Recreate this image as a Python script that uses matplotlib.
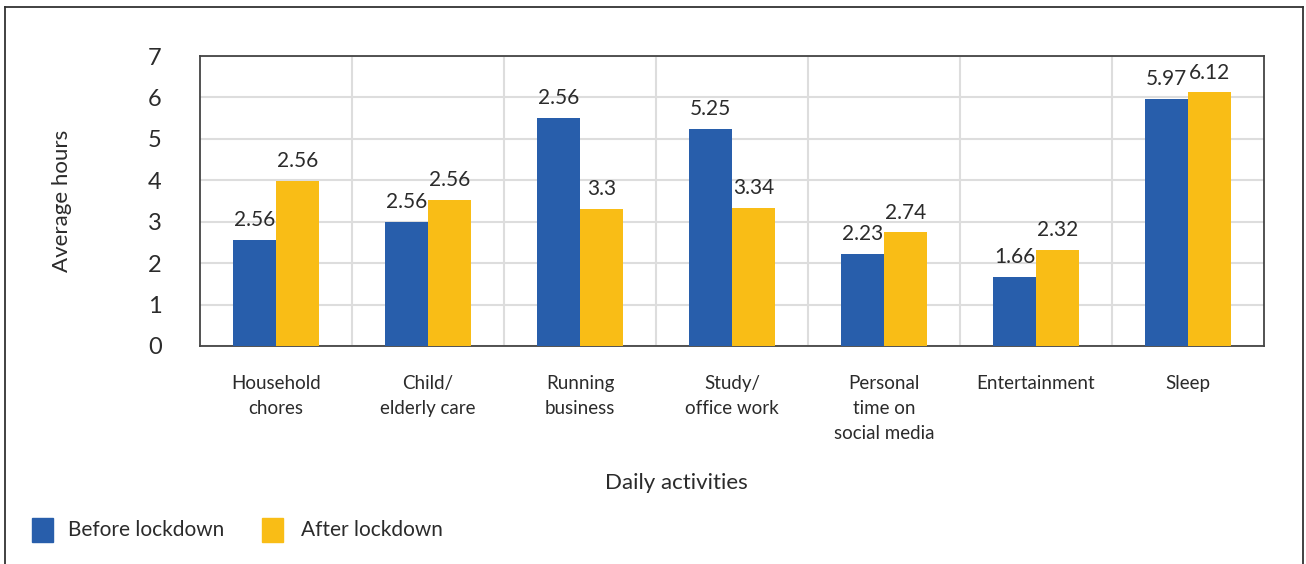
import matplotlib
matplotlib.use("Agg")
import matplotlib.pyplot as plt
from matplotlib.patches import Rectangle
import numpy as np

plt.rcParams['font.family'] = ['Lato', 'DejaVu Sans']

categories = ["Household\nchores", "Child/\nelderly care", "Running\nbusiness",
              "Study/\noffice work", "Personal\ntime on\nsocial media",
              "Entertainment", "Sleep"]
before = [2.56, 3.0, 5.5, 5.25, 2.23, 1.66, 5.97]
after = [3.98, 3.52, 3.3, 3.34, 2.74, 2.32, 6.12]
before_labels = ["2.56", "2.56", "2.56", "5.25", "2.23", "1.66", "5.97"]
after_labels = ["2.56", "2.56", "3.3", "3.34", "2.74", "2.32", "6.12"]
series_names = ["Before lockdown", "After lockdown"]
yticks = [0, 1, 2, 3, 4, 5, 6, 7]

BLUE = "#285EAB"
YELLOW = "#F9BD16"
TXT = "#2b2b2b"

W, H = 1306, 564
fig = plt.figure(figsize=(W / 100, H / 100), dpi=100)

# outer frame
fig.add_artist(plt.Line2D([5 / W, 5 / W], [0, 1 - 7 / H], color="#333333", lw=1.3))
fig.add_artist(plt.Line2D([5 / W, 1303 / W], [1 - 7 / H, 1 - 7 / H], color="#333333", lw=1.3))
fig.add_artist(plt.Line2D([1303 / W, 1303 / W], [0, 1 - 7 / H], color="#333333", lw=1.3))

ax = fig.add_axes([200 / W, 1 - 346 / H, 1064 / W, 290 / H])
n = len(categories)
x = np.arange(n)
bw = 0.283
ax.bar(x - bw / 2, before, bw, color=BLUE, zorder=3)
ax.bar(x + bw / 2, after, bw, color=YELLOW, zorder=3)

for i in range(n):
    ax.text(x[i] - bw / 2, before[i] + 0.24, before_labels[i], ha="center", va="bottom",
            fontsize=15, color=TXT)
    ax.text(x[i] + bw / 2, after[i] + 0.24, after_labels[i], ha="center", va="bottom",
            fontsize=15, color=TXT)

ax.set_xlim(-0.5, n - 0.5)
ax.set_ylim(0, 7)
ax.set_yticks(yticks)
ax.set_yticklabels([str(t) for t in yticks], fontsize=17, color=TXT)
ax.set_xticks(x)
ax.set_xticklabels(categories, fontsize=13.5, color=TXT, linespacing=1.55, va="top")
ax.tick_params(axis="x", length=0, pad=21)
for lab in ax.get_yticklabels():
    lab.set_horizontalalignment("center")
ax.tick_params(axis="y", length=0, pad=32.4)

ax.yaxis.grid(True, color="#dddddd", lw=1.5, zorder=0)
for b in np.arange(0.5, n - 0.5, 1):
    ax.axvline(b, color="#dddddd", lw=1.5, zorder=0)
for s in ax.spines.values():
    s.set_color("#444444")
    s.set_linewidth(1.3)

ax.set_ylabel("Average hours", fontsize=16, color=TXT)
ax.yaxis.set_label_coords(-128 / 1064, 0.5)
fig.text(676 / W, 1 - 483 / H, "Daily activities", ha="center", va="center",
         fontsize=16, color=TXT)

# legend
for (x0, tx, col, name) in [(32, 68, BLUE, series_names[0]), (262, 301, YELLOW, series_names[1])]:
    fig.add_artist(Rectangle((x0 / W, 1 - 542 / H), 21 / W, 24 / H, color=col,
                             transform=fig.transFigure))
    fig.text(tx / W, 1 - 530 / H, name, ha="left", va="center", fontsize=15, color=TXT)

fig.savefig("out.png", dpi=100)
